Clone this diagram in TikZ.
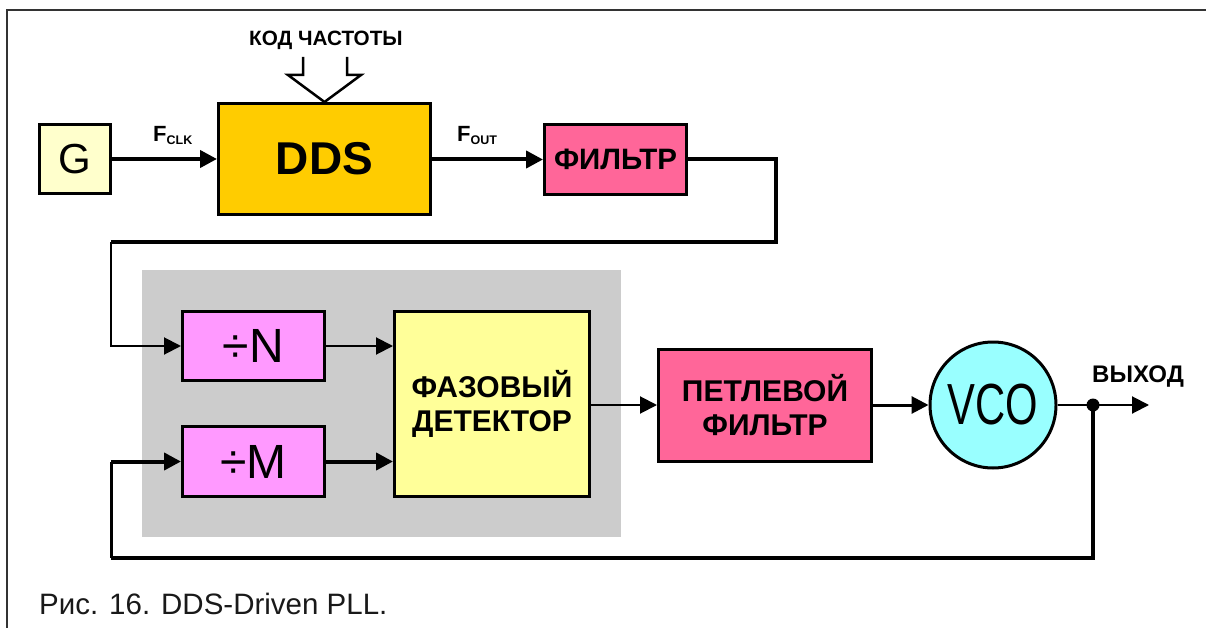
\documentclass[tikz,border=0pt]{standalone}
\usepackage{fontspec}
\setmainfont{Liberation Sans}
\usetikzlibrary{arrows.meta}
\definecolor{gcol}{HTML}{FFFFCC}
\definecolor{ddscol}{HTML}{FFCC00}
\definecolor{pinkcol}{HTML}{FF6699}
\definecolor{divcol}{HTML}{FF99FF}
\definecolor{pdcol}{HTML}{FFFF99}
\definecolor{vcocol}{HTML}{99FFFF}
\definecolor{graycol}{HTML}{CCCCCC}
\definecolor{framecol}{HTML}{333333}
\begin{document}
\begin{tikzpicture}[x=1pt,y=-1pt,
  box/.style={draw=black, line width=3pt, inner sep=0pt, align=center,
    font=\bfseries\fontsize{30}{34}\selectfont},
  thickln/.style={line width=4pt},
  midln/.style={line width=3pt},
  thinln/.style={line width=2pt},
  tip/.style={-{Triangle[length=17pt,width=17pt]}},
  lbl/.style={font=\bfseries\fontsize{20.7}{24}\selectfont, inner sep=0pt}
]
\useasboundingbox (0,0) rectangle (1206,628);
% frame
\draw[framecol, line width=2pt] (7,628) -- (7,10) -- (1206,10);
% gray background
\fill[graycol] (142,270) rectangle (621,537);

% nodes
\node[box, fill=gcol, minimum width=71pt, minimum height=69pt,
  font=\fontsize{42}{42}\selectfont] (G) at (75,159) {G};
\node[box, fill=ddscol, minimum width=212pt, minimum height=111pt,
  font=\bfseries\fontsize{46}{46}\selectfont] (DDS) at (324.5,159) {DDS};
\node[box, fill=pinkcol, minimum width=142pt, minimum height=70pt,
  font=\bfseries\fontsize{29.5}{29.5}\selectfont] (F) at (615.5,159.5) {ФИЛЬТР};
\node[box, fill=divcol, minimum width=142pt, minimum height=69pt,
  font=\fontsize{48}{48}\selectfont] (DN) at (253.5,346) {÷N};
\node[box, fill=divcol, minimum width=142pt, minimum height=70pt,
  font=\fontsize{48}{48}\selectfont] (DM) at (253.5,461.5) {÷M};
\node[box, fill=pdcol, minimum width=195pt, minimum height=185pt] (PD) at (492,404) {ФАЗОВЫЙ\\ДЕТЕКТОР};
\node[box, fill=pinkcol, minimum width=213pt, minimum height=112pt] (LF) at (765,405) {ПЕТЛЕВОЙ\\ФИЛЬТР};
\node[circle, draw=black, line width=3pt, fill=vcocol, minimum size=126pt, inner sep=0pt,
  font=\fontsize{58}{58}\selectfont] (VCO) at (993,405) {\scalebox{0.72}[1]{VCO}};

% labels
\node[lbl] (code) at (326,40) {КОД ЧАСТОТЫ};
\node[lbl, anchor=base west, font=\bfseries\fontsize{22}{24}\selectfont] (fclk) at (153,142) {F{\fontsize{12.5}{12}\selectfont\raisebox{-3pt}{CLK}}};
\node[lbl, anchor=base west, font=\bfseries\fontsize{22}{24}\selectfont] (fout) at (457,142) {F{\fontsize{12.5}{12}\selectfont\raisebox{-3pt}{OUT}}};
\node[lbl, anchor=base west, font=\bfseries\fontsize{24}{24}\selectfont] (out) at (1092,382) {ВЫХОД};
\node[anchor=base west, inner sep=0pt, text=black!90, font=\fontsize{29.5}{30}\selectfont] (cap) at (39,614) {Рис. 16. DDS-Driven PLL.};

% coordinates
\coordinate (c1) at (776,159.5);
\coordinate (c2) at (776,242);
\coordinate (c3) at (111,242);
\coordinate (dot) at (1093,405);
\coordinate (oend) at (1149,405);
\coordinate (b1) at (1093,558);
\coordinate (b2) at (111,558);
\coordinate (b3) at (111,461.5);

% bus arrow
\draw[line width=2.5pt, line join=miter] (303,57) -- (303,75) -- (288,75) -- (DDS.north) -- (361,75) -- (347,75) -- (347,57);

% connectors
\draw[thickln, tip] (G.east) -- (DDS.west |- G.east);
\draw[thickln, tip] (DDS.east |- F.west) -- (F.west);
\draw[thickln, line join=miter] (F.east) -- (c1) -- (c2) -- (c3);
\draw[thinln, tip] (c3) |- (DN.west);
\draw[thinln, tip] (DN.east) -- (DN.east -| PD.west);
\draw[thickln, tip] (DM.east) -- (DM.east -| PD.west);
\draw[thinln, tip] (PD.east |- LF.west) -- (LF.west);
\draw[midln, tip] (LF.east) -- (VCO.west);
\draw[thinln] (VCO.east) -- (dot);
\draw[thinln, tip] (dot) -- (oend);
\draw[thickln, line join=miter] (dot) -- (b1) -- (b2);
\draw[midln] (b2) -- (b3);
\draw[thickln, tip] (b3) -- (DM.west);
\fill (dot) circle (6.5pt);
\end{tikzpicture}
\end{document}
